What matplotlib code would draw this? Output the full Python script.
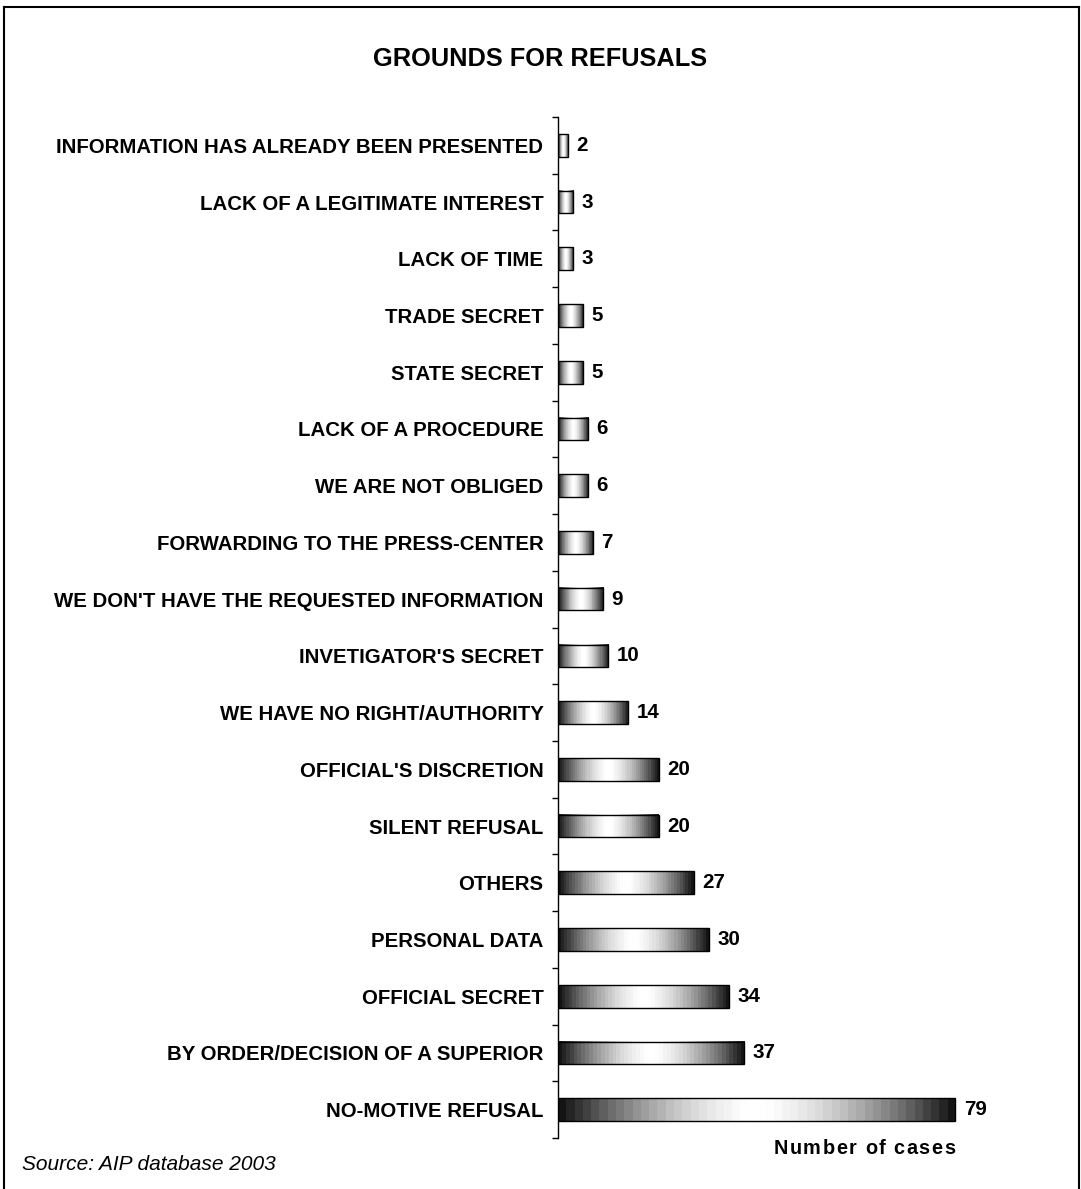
import numpy as np
import matplotlib
matplotlib.use("Agg")
import matplotlib.pyplot as plt
from matplotlib.lines import Line2D

plt.rcParams['font.family'] = ['Liberation Sans', 'DejaVu Sans']

categories = [
    "INFORMATION HAS ALREADY BEEN PRESENTED",
    "LACK OF A LEGITIMATE INTEREST",
    "LACK OF TIME",
    "TRADE SECRET",
    "STATE SECRET",
    "LACK OF A PROCEDURE",
    "WE ARE NOT OBLIGED",
    "FORWARDING TO THE PRESS-CENTER",
    "WE DON'T HAVE THE REQUESTED INFORMATION",
    "INVETIGATOR'S SECRET",
    "WE HAVE NO RIGHT/AUTHORITY",
    "OFFICIAL'S DISCRETION",
    "SILENT REFUSAL",
    "OTHERS",
    "PERSONAL DATA",
    "OFFICIAL SECRET",
    "BY ORDER/DECISION OF A SUPERIOR",
    "NO-MOTIVE REFUSAL",
]
values = [2, 3, 3, 5, 5, 6, 6, 7, 9, 10, 14, 20, 20, 27, 30, 34, 37, 79]

title = "GROUNDS FOR REFUSALS"
xlabel = "Number of cases"
source = "Source: AIP database 2003"

W, H = 1081, 1189
fig = plt.figure(figsize=(W / 100, H / 100), dpi=100)
fig.patch.set_facecolor("white")

# axes placement in pixels
ax_left, ax_top, ax_bottom = 558, 117, 1138
xmax = 90
px_per_unit = 5.03
ax = fig.add_axes([ax_left / W, 1 - ax_bottom / H,
                   xmax * px_per_unit / W, (ax_bottom - ax_top) / H])

n = len(categories)
y = np.arange(n)
bar_h = 0.40

bars = ax.barh(y, values, height=bar_h, facecolor="none",
               edgecolor="black", linewidth=1.0, zorder=3)

# horizontal gradient (dark - white - dark)
t = np.linspace(0, 1, 48)
prof = 0.08 + 0.92 * (1 - np.abs(2 * t - 1) ** 1.6)
grad = prof[np.newaxis, :]
for b in bars:
    x0, y0 = b.get_x(), b.get_y()
    ax.imshow(grad, extent=[x0, x0 + b.get_width(), y0 + b.get_height(), y0],
              aspect="auto", cmap="gray", vmin=0, vmax=1,
              interpolation="nearest", zorder=2)

for b, v in zip(bars, values):
    ax.annotate(str(v), xy=(b.get_width(), b.get_y() + b.get_height() / 2),
                xytext=(6, 0), textcoords="offset points",
                ha="left", va="center", fontsize=14.8, fontweight="bold")

ax.set_xlim(0, xmax)
ax.set_ylim(n - 0.5, -0.5)

for s in ["top", "right", "bottom"]:
    ax.spines[s].set_visible(False)
ax.spines["left"].set_linewidth(1.0)
ax.set_xticks([])

ax.set_yticks(np.arange(n + 1) - 0.5)
ax.set_yticklabels([])
ax.tick_params(axis="y", which="major", length=4.3, width=1.0, direction="out")
ax.set_yticks(y, minor=True)
ax.set_yticklabels(categories, minor=True, fontsize=14.7, fontweight="bold")
ax.tick_params(axis="y", which="minor", length=0, pad=10.5)

fig.text(540.5 / W, 1 - 59 / H, title, ha="center", va="center",
         fontsize=18.3, fontweight="bold")
fig.text(22 / W, 1 - 1165 / H, source, ha="left", va="center",
         fontsize=15, fontstyle="italic")

# letter-spaced axis caption, right edge at 955 px
renderer = fig.canvas.get_renderer()
fs_lab = 14.3
spacing = 1.5
widths = []
for ch in xlabel:
    tt = fig.text(0, 0, ch if ch != " " else "n", fontsize=fs_lab, fontweight="bold")
    w = tt.get_window_extent(renderer).width
    if ch == " ":
        tt2 = fig.text(0, 0, "n n", fontsize=fs_lab, fontweight="bold")
        w = tt2.get_window_extent(renderer).width - 2 * w
        tt2.remove()
    widths.append(w)
    tt.remove()
total = sum(widths) + spacing * (len(xlabel) - 1)
xcur = 955 - total
for ch, w in zip(xlabel, widths):
    if ch != " ":
        fig.text(xcur / W, 1 - 1148 / H, ch, ha="left", va="center",
                 fontsize=fs_lab, fontweight="bold")
    xcur += w + spacing

# outer border (left, top, right)
bx0, by0, bx1 = 3.5 / W, 1 - 6.5 / H, 1079 / W
for xs, ys in [([bx0, bx0], [0, by0]), ([bx0, bx1], [by0, by0]), ([bx1, bx1], [by0, 0])]:
    fig.add_artist(Line2D(xs, ys, color="black", linewidth=1.5,
                          transform=fig.transFigure))

fig.savefig("out.png", dpi=100, facecolor="white")
